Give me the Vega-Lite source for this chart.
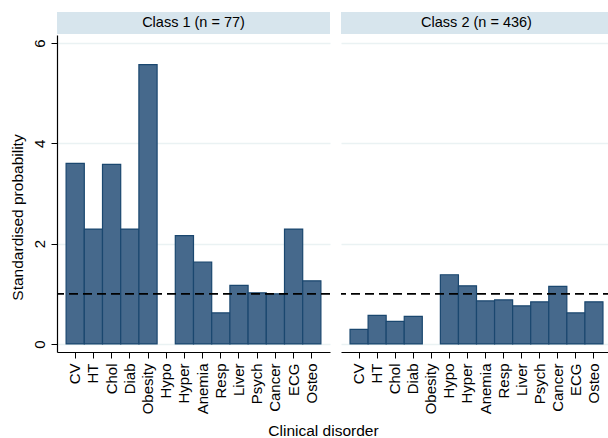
{
  "$schema": "https://vega.github.io/schema/vega-lite/v6.json",
  "padding": {"left": 10, "top": 12, "right": 0, "bottom": 0},
  "background": "white",
  "config": {
    "font": "Liberation Sans",
    "view": {"stroke": null},
    "axis": {"labelColor": "black", "titleColor": "black", "domainColor": "black", "tickColor": "black", "labelFont": "Liberation Sans", "titleFont": "Liberation Sans", "titleFontWeight": "normal"}
  },
  "datasets": {
    "c1": [
      {"disorder": "CV", "p": 3.60},
      {"disorder": "HT", "p": 2.29},
      {"disorder": "Chol", "p": 3.58},
      {"disorder": "Diab", "p": 2.29},
      {"disorder": "Obesity", "p": 5.57},
      {"disorder": "Hyper", "p": 2.16},
      {"disorder": "Anemia", "p": 1.63},
      {"disorder": "Resp", "p": 0.62},
      {"disorder": "Liver", "p": 1.17},
      {"disorder": "Psych", "p": 1.02},
      {"disorder": "Cancer", "p": 1.00},
      {"disorder": "ECG", "p": 2.29},
      {"disorder": "Osteo", "p": 1.26}
    ],
    "c2": [
      {"disorder": "CV", "p": 0.29},
      {"disorder": "HT", "p": 0.57},
      {"disorder": "Chol", "p": 0.45},
      {"disorder": "Diab", "p": 0.55},
      {"disorder": "Hypo", "p": 1.38},
      {"disorder": "Hyper", "p": 1.16},
      {"disorder": "Anemia", "p": 0.86},
      {"disorder": "Resp", "p": 0.88},
      {"disorder": "Liver", "p": 0.76},
      {"disorder": "Psych", "p": 0.84},
      {"disorder": "Cancer", "p": 1.15},
      {"disorder": "ECG", "p": 0.62},
      {"disorder": "Osteo", "p": 0.84}
    ],
    "h1": [{"label": "Class 1 (n = 77)"}],
    "h2": [{"label": "Class 2 (n = 436)"}],
    "ref": [{"y": 1}]
  },
  "title": {"text": "Clinical disorder", "orient": "bottom", "anchor": "middle", "fontSize": 15.5, "fontWeight": "normal", "font": "Liberation Sans", "color": "black", "offset": 10, "dx": 12},
  "spacing": 9,
  "hconcat": [
    {
      "bounds": "flush",
      "spacing": 1,
      "vconcat": [
        {
          "width": 273, "height": 22,
          "view": {"fill": "#d7e5ed", "stroke": null},
          "data": {"name": "h1"},
          "mark": {"type": "text", "fontSize": 14.5, "color": "black", "baseline": "middle", "align": "center"},
          "encoding": {"text": {"field": "label"}}
        },
        {
          "width": 273, "height": 317,
          "layer": [
            {
              "data": {"name": "c1"},
              "mark": {"type": "bar", "fill": "#46698c", "stroke": "#1a476f", "strokeWidth": 1.2},
              "encoding": {
                "x": {"field": "disorder", "type": "nominal",
                  "scale": {"domain": ["CV", "HT", "Chol", "Diab", "Obesity", "Hypo", "Hyper", "Anemia", "Resp", "Liver", "Psych", "Cancer", "ECG", "Osteo"], "paddingInner": 0, "paddingOuter": 0.5},
                  "axis": {"title": null, "labelAngle": -90, "labelFontSize": 15, "labelPadding": 5, "tickSize": 6, "domainWidth": 1.2, "labelAlign": "right", "labelBaseline": "middle"}},
                "y": {"field": "p", "type": "quantitative",
                  "scale": {"domain": [-0.16, 6.16], "nice": false, "zero": false},
                  "axis": {"title": "Standardised probability", "titleFontSize": 15.5, "titlePadding": 7, "titleY": 182, "values": [0, 2, 4, 6], "labelAngle": -90, "labelAlign": "center", "labelBaseline": "bottom", "labelFontSize": 15, "labelPadding": 4, "tickSize": 6, "domainWidth": 1.2, "grid": true, "gridColor": "#eaf2f3", "gridWidth": 1.5}},
                "y2": {"datum": 0}
              }
            },
            {
              "data": {"name": "ref"},
              "mark": {"type": "rule", "color": "black", "strokeDash": [9, 5], "strokeWidth": 1.8},
              "encoding": {"y": {"field": "y", "type": "quantitative"}}
            }
          ]
        }
      ]
    },
    {
      "bounds": "flush",
      "spacing": 1,
      "vconcat": [
        {
          "width": 271, "height": 22,
          "view": {"fill": "#d7e5ed", "stroke": null},
          "data": {"name": "h2"},
          "mark": {"type": "text", "fontSize": 14.5, "color": "black", "baseline": "middle", "align": "center"},
          "encoding": {"text": {"field": "label"}}
        },
        {
          "width": 271, "height": 317,
          "layer": [
            {
              "data": {"name": "c2"},
              "mark": {"type": "bar", "fill": "#46698c", "stroke": "#1a476f", "strokeWidth": 1.2},
              "encoding": {
                "x": {"field": "disorder", "type": "nominal",
                  "scale": {"domain": ["CV", "HT", "Chol", "Diab", "Obesity", "Hypo", "Hyper", "Anemia", "Resp", "Liver", "Psych", "Cancer", "ECG", "Osteo"], "paddingInner": 0, "paddingOuter": 0.5},
                  "axis": {"title": null, "labelAngle": -90, "labelFontSize": 15, "labelPadding": 5, "tickSize": 6, "domainWidth": 1.2, "labelAlign": "right", "labelBaseline": "middle"}},
                "y": {"field": "p", "type": "quantitative",
                  "scale": {"domain": [-0.16, 6.16], "nice": false, "zero": false},
                  "axis": {"title": null, "values": [0, 2, 4, 6], "labels": false, "ticks": false, "domain": false, "grid": true, "gridColor": "#eaf2f3", "gridWidth": 1.5}},
                "y2": {"datum": 0}
              }
            },
            {
              "data": {"name": "ref"},
              "mark": {"type": "rule", "color": "black", "strokeDash": [9, 5], "strokeWidth": 1.8},
              "encoding": {"y": {"field": "y", "type": "quantitative"}}
            }
          ]
        }
      ]
    }
  ]
}
